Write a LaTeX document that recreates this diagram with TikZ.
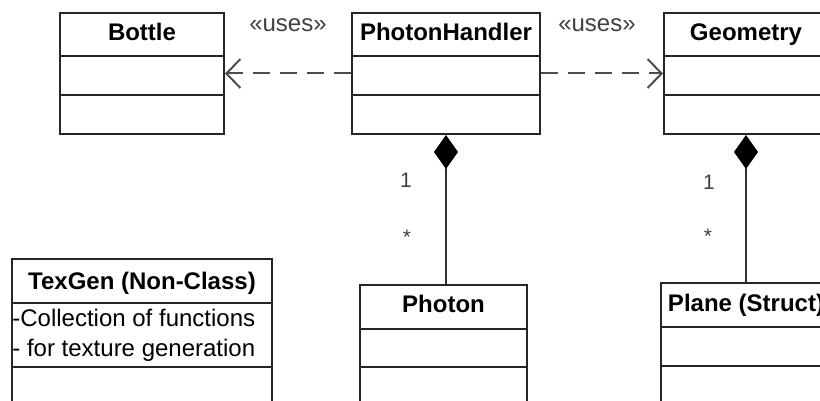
\documentclass[tikz,border=0pt,12pt]{standalone}
\usepackage{fontspec}
\setmainfont{Liberation Sans}
\usetikzlibrary{arrows.meta,positioning}

\tikzset{
  classbox/.style={draw=black!85, line width=1pt, inner sep=0pt},
  classname/.style={font=\bfseries, anchor=base},
  attrtext/.style={anchor=base west, inner sep=0pt},
  divider/.style={draw=black!85, line width=1pt},
  uses/.style={draw=black!70, line width=1pt, dash pattern=on 8.5pt off 5pt,
    -{Straight Barb[length=7pt,width=14.5pt]}},
  composes/.style={draw=black!80, line width=1pt,
    {Diamond[length=17pt,width=12pt,color=black,fill=black]}-},
  stereo/.style={text=black!75, anchor=base},
  mult/.style={text=black!75, font=\fontsize{10.5}{12}\selectfont, anchor=base}
}

\begin{document}
\begin{tikzpicture}[x=0.5pt,y=-0.5pt]
\useasboundingbox (0,0) rectangle (820,401);
\clip (0,0) rectangle (820,401);

% class boxes
\node[classbox, minimum width=82pt, minimum height=60.5pt] (bottle) at (142,73.5) {};
\node[classbox, minimum width=94pt, minimum height=60.5pt] (handler) at (446,73.5) {};
\node[classbox, minimum width=82pt, minimum height=60.5pt] (geometry) at (746,73.5) {};
\node[classbox, minimum width=130pt, minimum height=85.5pt] (texgen) at (142,344.5) {};
\node[classbox, minimum width=83.5pt, minimum height=72.5pt] (photon) at (443.5,357.5) {};
\node[classbox, minimum width=85pt, minimum height=73.5pt] (plane) at (746,356.5) {};

% class names
\node[classname] (bottlename) at ([yshift=-14.5pt]bottle.north) {Bottle};
\node[classname] (handlername) at ([yshift=-14.5pt]handler.north) {PhotonHandler};
\node[classname] (geometryname) at ([yshift=-14.5pt]geometry.north) {Geometry};
\node[classname] (texgenname) at ([yshift=-15.5pt]texgen.north) {TexGen (Non-Class)};
\node[classname] (photonname) at ([yshift=-14pt]photon.north) {Photon};
\node[classname] (planename) at ([yshift=-14.5pt]plane.north) {Plane (Struct)};

% compartments
\foreach \c/\a/\b in {bottle/22/41.5, handler/22/41.5, geometry/22/41.5,
                      texgen/22.5/54.5, photon/22.5/41.5, plane/22.5/42}{
  \draw[divider] ([yshift=-\a pt]\c.north west) -- ([yshift=-\a pt]\c.north east);
  \draw[divider] ([yshift=-\b pt]\c.north west) -- ([yshift=-\b pt]\c.north east);
}

% texgen attributes
\node[attrtext] (texgenattra) at ([xshift=0.5pt,yshift=-34pt]texgen.north west) {-Collection of functions};
\node[attrtext] (texgenattrb) at ([xshift=0.5pt,yshift=-49pt]texgen.north west) {- for texture generation};

% dependencies
\draw[uses] (handler.west) -- (bottle.east)
  node[stereo, midway, yshift=20.75pt] {«uses»};
\draw[uses] (handler.east) -- (geometry.west)
  node[stereo, midway, xshift=-2.5pt, yshift=20.75pt] {«uses»};

% compositions
\draw[composes] (handler.south) -- (handler.south |- photon.north);
\draw[composes] (geometry.south) -- (geometry.south |- plane.north);

\node[mult] (handlerone) at ([xshift=-20pt,yshift=-26.5pt]handler.south) {1};
\node[mult] (handlermany) at ([xshift=-19.5pt,yshift=-54.5pt]handler.south) {*};
\node[mult] (geometryone) at ([xshift=-18.5pt,yshift=-27.5pt]geometry.south) {1};
\node[mult] (geometrymany) at ([xshift=-19pt,yshift=-54pt]geometry.south) {*};

\end{tikzpicture}
\end{document}
